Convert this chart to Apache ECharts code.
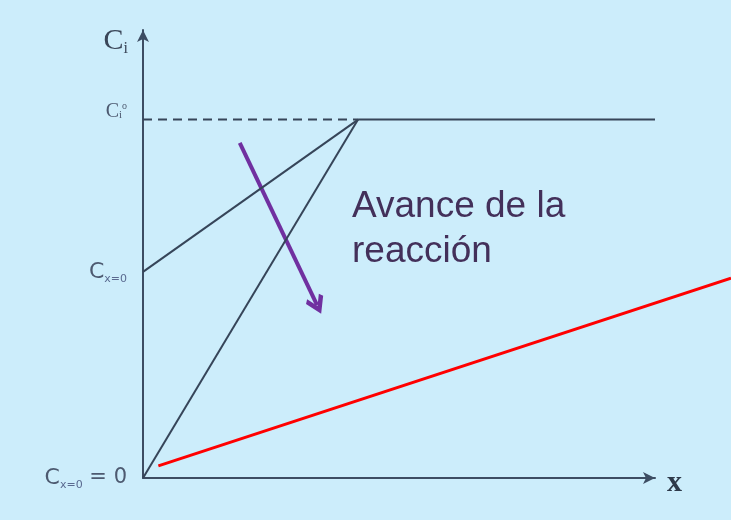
<!DOCTYPE html>
<html>
<head>
<meta charset="utf-8">
<script src="https://cdn.jsdelivr.net/npm/echarts@6/dist/echarts.min.js"></script>
<style>
html,body{margin:0;padding:0;background:#ccedfb;}
#chart{width:731px;height:520px;}
</style>
</head>
<body>
<div id="chart"></div>
<script>
// Data (abstract units: x 0..100, y 0..100)
const lineUpper = [[0, 46], [42, 80]];
const lineLower = [[0, 0], [42, 80]];
const plateau = [[42, 80], [100, 80]];
const dashed = [[0, 80], [42, 80]];
const redLine = [[3, 2.7], [114.84, 44.6]];
const arrowCoords = [[18.9, 74.8], [34, 38.6]];
const yTickValues = [0, 46, 80];
const yTickLabels = ['{c|C}{sub|x=0}{eq| = 0}', '{c|C}{sub|x=0}', '{cs|C}{si|i}{so|o}'];
const annotation = 'Avance de la\nreacción';

const axisColor = '#3d4d63';
const lineColor = '#364559';

const chart = echarts.init(document.getElementById('chart'));
chart.setOption({
  backgroundColor: '#ccedfb',
  animation: false,
  grid: [
    {left: 143, right: 76, top: 30, bottom: 42},
    {left: 143, right: 0, top: 30, bottom: 42}
  ],
  xAxis: [{
    type: 'value', min: 0, max: 100, gridIndex: 0,
    name: 'x', nameLocation: 'end', nameGap: 12,
    nameTextStyle: {fontFamily: 'Liberation Serif', fontSize: 30, fontWeight: 'bold', color: '#2e3a4a', verticalAlign: 'top', lineHeight: 10},
    axisLine: {show: true, lineStyle: {color: axisColor, width: 2}, symbol: ['none', 'arrow'], symbolSize: [9, 12]},
    axisTick: {show: false}, axisLabel: {show: false}, splitLine: {show: false}
  }, {
    type: 'value', min: 0, max: 114.84, gridIndex: 1, show: false
  }],
  yAxis: [{
    type: 'value', min: 0, max: 100, gridIndex: 0,
    name: '{c|C}{s|i}', nameLocation: 'end', nameGap: -27,
    nameTextStyle: {align: 'right', padding: [0, 15, 0, 0],
      rich: {
        c: {fontFamily: 'Liberation Serif', fontSize: 30, color: '#3a4658'},
        s: {fontFamily: 'Liberation Serif', fontSize: 16, color: '#3a4658', padding: [16, 0, 0, 0]}
      }},
    axisLine: {show: true, lineStyle: {color: axisColor, width: 2}, symbol: ['none', 'arrow'], symbolSize: [9, 12]},
    axisTick: {show: false}, splitLine: {show: false},
    axisLabel: {
      show: true, margin: 16, customValues: yTickValues,
      formatter: function (v) { const i = yTickValues.indexOf(v); return i >= 0 ? yTickLabels[i] : ''; },
      rich: {
        c: {fontFamily: 'DejaVu Sans', fontSize: 22, color: '#4d5a70'},
        sub: {fontFamily: 'DejaVu Sans', fontSize: 11, color: '#5a6a90', padding: [14, 0, 0, 0]},
        eq: {fontFamily: 'DejaVu Sans', fontSize: 21, color: '#4d5a70'},
        cs: {fontFamily: 'Liberation Serif', fontSize: 20, color: '#4d5a70', padding: [0, 0, 16, 0]},
        si: {fontFamily: 'Liberation Serif', fontSize: 11, color: '#4d5a70', padding: [0, 0, 8, 0], width: 3},
        so: {fontFamily: 'Liberation Serif', fontSize: 10, color: '#4d5a70', padding: [0, 0, 26, 0]}
      }
    }
  }, {
    type: 'value', min: 0, max: 100, gridIndex: 1, show: false
  }],
  series: [
    {type: 'line', data: dashed, symbol: 'none', lineStyle: {color: lineColor, width: 2, type: [9, 6]}},
    {type: 'line', data: lineUpper, symbol: 'none', lineStyle: {color: lineColor, width: 2}},
    {type: 'line', data: lineLower, symbol: 'none', lineStyle: {color: lineColor, width: 2}},
    {type: 'line', data: plateau, symbol: 'none', lineStyle: {color: lineColor, width: 2}},
    {type: 'line', xAxisIndex: 1, yAxisIndex: 1, data: redLine, symbol: 'none', clip: false, lineStyle: {color: '#ff0000', width: 3}},
    {type: 'lines', coordinateSystem: 'cartesian2d', polyline: false,
      symbol: ['none', 'path://M11,0 L22,14.5 L18.5,18 L11,8 L3.5,18 L0,14.5 Z'], symbolSize: [22, 19],
      lineStyle: {color: '#7030a0', width: 4, opacity: 1},
      itemStyle: {color: '#7030a0'},
      data: [{coords: arrowCoords}]}
  ],
  graphic: [{
    type: 'text', left: 352, top: 184,
    style: {text: annotation, fontFamily: 'Liberation Sans', fontSize: 37, lineHeight: 45, fill: '#43305a'}
  }]
});
</script>
</body>
</html>
